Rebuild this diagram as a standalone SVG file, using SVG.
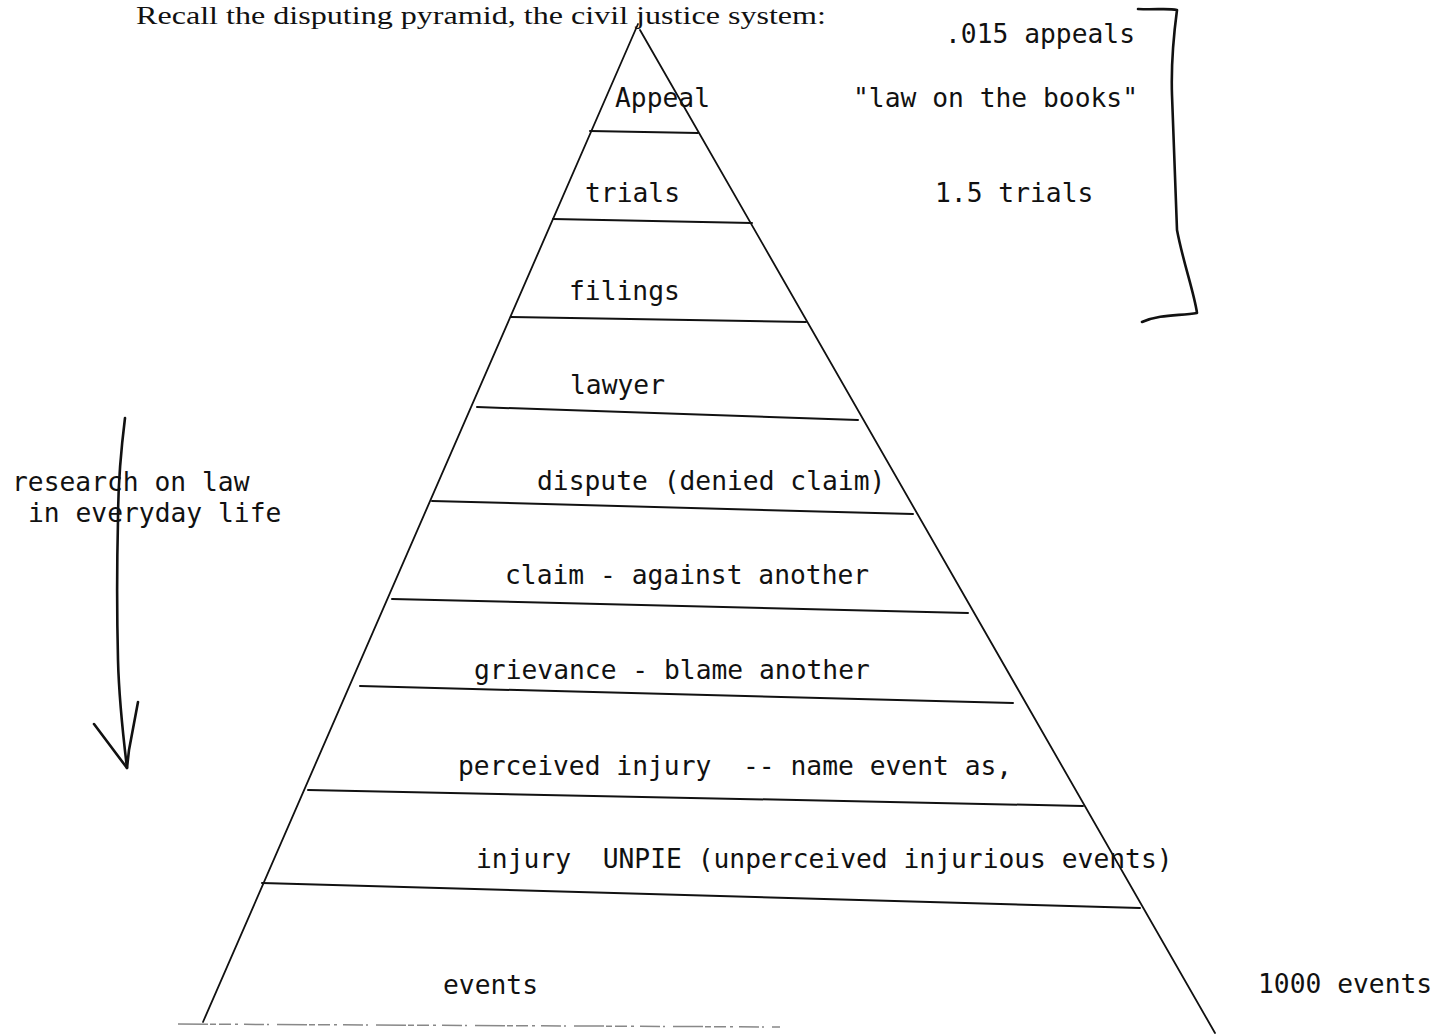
<svg xmlns="http://www.w3.org/2000/svg" width="1447" height="1036" viewBox="0 0 1447 1036">
<style>
.t{font-family:"DejaVu Sans Mono","Liberation Mono",monospace;font-size:26.3px;fill:#111;white-space:pre}
.ttl{font-family:"Liberation Serif","Times New Roman",serif;font-size:26px;fill:#111}
.edge{stroke:#111;stroke-width:1.8;fill:none;stroke-linecap:round}
.tier{stroke:#111;stroke-width:2;fill:none;stroke-linecap:round}
.hand{stroke:#111;stroke-width:2.6;fill:none;stroke-linecap:round;stroke-linejoin:round}
</style>
<rect width="1447" height="1036" fill="#fff"/>
<text id="title" class="ttl" x="136" y="24" textLength="690" lengthAdjust="spacingAndGlyphs">Recall the disputing pyramid, the civil justice system:</text>

<g id="pyramid">
  <path class="edge" d="M638,24 L203,1022"/>
  <path class="edge" d="M640,30 L1215,1033"/>
  <path d="M178,1024 L780,1027" stroke="#888" stroke-width="1.5" stroke-dasharray="30 2 6 3 12 4 3 6 20 3 2 8" fill="none"/>
</g>

<g id="connectors">
  <path class="tier" d="M590,131 L698,133"/>
  <path class="tier" d="M553,219 L752,223"/>
  <path class="tier" d="M511,317 L806,322"/>
  <path class="tier" d="M477,407 L858,420"/>
  <path class="tier" d="M432,501 L913,514"/>
  <path class="tier" d="M392,599 L968,613"/>
  <path class="tier" d="M360,686 L1013,703"/>
  <path class="tier" d="M308,790 L1083,806"/>
  <path class="tier" d="M262,883 L1140,908"/>
  <path class="hand" d="M125,418 C121,450 118,480 118,520 C117,560 117,620 118,660 C119,700 123,735 127,768"/>
  <path class="hand" d="M94,724 L127,768 L129,750 L138,702"/>
  <path class="hand" d="M1138,9 C1155,10 1168,8 1177,10 C1173,40 1171,65 1172,95 L1177,230 C1183,262 1194,292 1197,313 C1180,316 1160,314 1142,322"/>
</g>

<g id="node-appeal"><text class="t" x="615" y="107">Appeal</text></g>
<g id="node-trials"><text class="t" x="585" y="202">trials</text></g>
<g id="node-filings"><text class="t" x="569" y="300">filings</text></g>
<g id="node-lawyer"><text class="t" x="570" y="394">lawyer</text></g>
<g id="node-dispute"><text class="t" x="537" y="490">dispute (denied claim)</text></g>
<g id="node-claim"><text class="t" x="505" y="584">claim - against another</text></g>
<g id="node-grievance"><text class="t" x="474" y="679">grievance - blame another</text></g>
<g id="node-perceived"><text class="t" x="458" y="775">perceived injury  -- name event as,</text></g>
<g id="node-injury"><text class="t" x="476" y="868">injury  UNPIE (unperceived injurious events)</text></g>
<g id="node-events"><text class="t" x="443" y="994">events</text></g>

<g id="annotations">
  <text class="t" x="945" y="43">.015 appeals</text>
  <text class="t" x="853" y="107">"law on the books"</text>
  <text class="t" x="935" y="202">1.5 trials</text>
  <text class="t" x="1258" y="993">1000 events</text>
  <text class="t" x="12" y="491">research on law</text>
  <text class="t" x="28" y="522">in everyday life</text>
</g>
</svg>
